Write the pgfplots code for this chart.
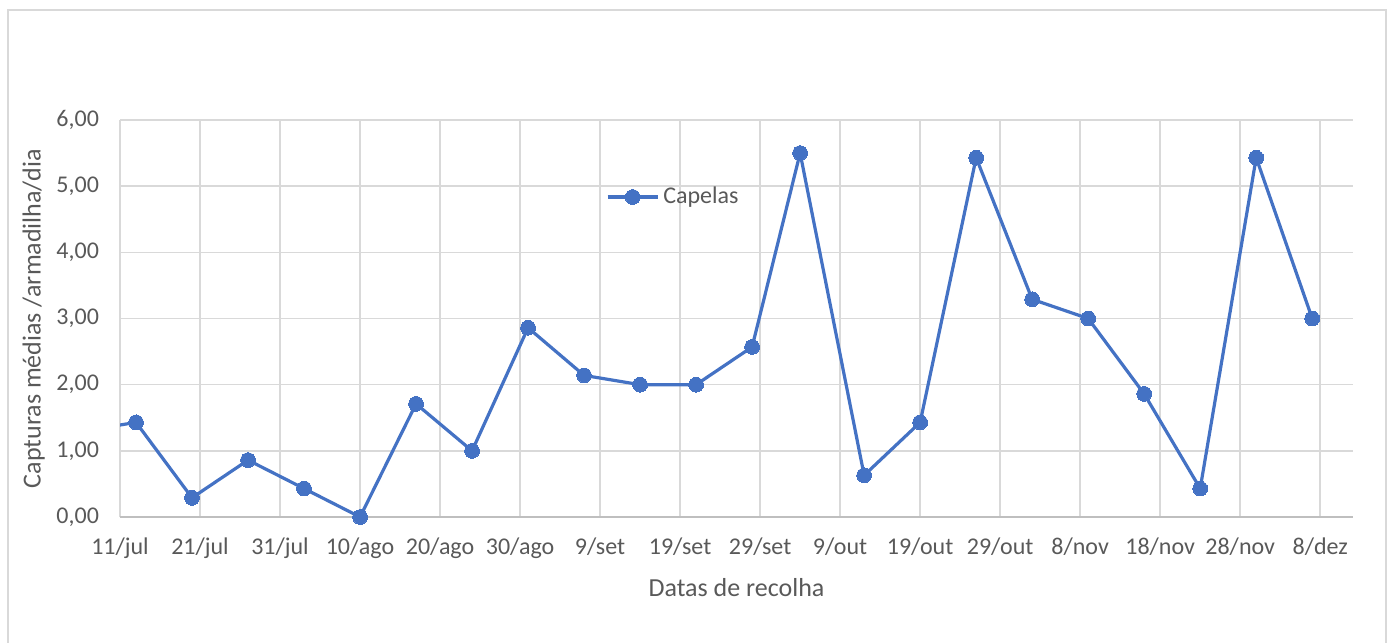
\documentclass[border=0pt]{standalone}
\usepackage{fontspec}
\setmainfont{Carlito}
\usepackage{pgfplots}
\pgfplotsset{compat=1.18}
\definecolor{serie}{HTML}{4472C4}
\definecolor{grelha}{HTML}{D9D9D9}
\definecolor{texto}{HTML}{595959}
\definecolor{eixo}{HTML}{BFBFBF}
\begin{document}
\begin{tikzpicture}
\useasboundingbox (0,0) rectangle (700pt,321pt);
\draw[grelha, line width=0.75pt] (4pt,-10pt) rectangle (693pt,316pt);
\begin{axis}[
  at={(60pt,62.5pt)}, anchor=south west,
  scale only axis, width=616.5pt, height=198.5pt,
  xmin=0, xmax=154.1, ymin=0, ymax=6,
  xtick={0,10,...,150},
  xticklabels={11/jul,21/jul,31/jul,10/ago,20/ago,30/ago,9/set,19/set,29/set,9/out,19/out,29/out,8/nov,18/nov,28/nov,8/dez},
  ytick={0,1,...,6},
  /pgf/number format/.cd, fixed, fixed zerofill, precision=2, use comma, assume math mode=true,
  /pgfplots/.cd,
  grid=major,
  major grid style={grelha, line width=0.8pt},
  axis line style={draw=none},
  axis x line*=bottom,
  x axis line style={draw=eixo, line width=0.9pt},
  axis y line*=left,
  y axis line style={draw=none},
  major tick length=0pt,
  tick label style={font=\fontsize{12}{14}\selectfont, text=texto},
  xticklabel style={yshift=-7pt},
  yticklabel style={xshift=-7pt},
  xlabel={Datas de recolha},
  ylabel={Capturas médias /armadilha/dia},
  label style={font=\fontsize{13}{15}\selectfont, text=texto},
  xlabel style={yshift=-3pt},
  ylabel style={yshift=-1pt},
  legend style={at={(0.389,0.806)}, anchor=west, draw=none, fill=none,
    font=\fontsize{12}{14}\selectfont, text=texto},
  legend cell align=left,
  legend image code/.code={%
    \draw[#1, mark repeat=2, mark phase=2] plot coordinates {(0cm,0cm) (0.44cm,0cm) (0.88cm,0cm)};},
]
\addplot[serie, line width=1.6pt, mark=*, mark size=3.7pt, mark options={fill=serie, draw=serie, line width=0pt}]
coordinates {
(-5,1.29)
(2,1.43)
(9,0.29)
(16,0.86)
(23,0.43)
(30,0.00)
(37,1.71)
(44,1.00)
(51,2.86)
(58,2.14)
(65,2.00)
(72,2.00)
(79,2.57)
(85,5.50)
(93,0.63)
(100,1.43)
(107,5.43)
(114,3.29)
(121,3.00)
(128,1.86)
(135,0.43)
(142,5.43)
(149,3.00)
};
\addlegendentry{Capelas}
\end{axis}
\end{tikzpicture}
\end{document}
